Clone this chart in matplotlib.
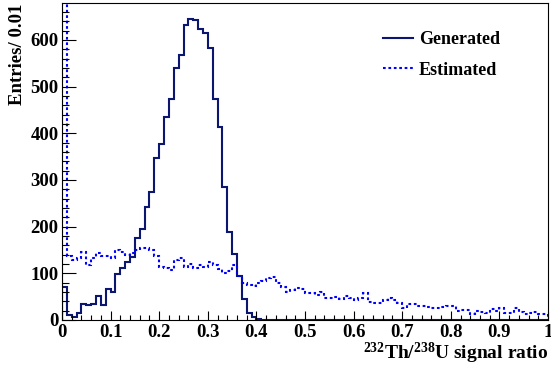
import matplotlib
matplotlib.use('Agg')
import matplotlib.pyplot as plt
import numpy as np

# -[Dati]-----------------------------------------------------------------------
bin_edges = np.linspace(0, 1, 101)

generated = [71, 11, 7, 14, 34, 32, 34, 51, 33, 67,
             59, 99, 111, 125, 136, 176, 194, 243, 275, 348,
             376, 434, 474, 539, 568, 632, 644, 643, 623, 614,
             582, 474, 414, 284, 189, 141, 94, 44, 14, 6,
             2, 1, 0, 0, 0, 0, 0, 0, 0, 0,
             0, 0, 0, 0, 0, 0, 0, 0, 0, 0,
             0, 0, 0, 0, 0, 0, 0, 0, 0, 0,
             0, 0, 0, 0, 0, 0, 0, 0, 0, 0,
             0, 0, 0, 0, 0, 0, 0, 0, 0, 0,
             0, 0, 0, 0, 0, 0, 0, 0, 0, 0]

estimated = [900, 137, 129, 132, 146, 118, 133, 143, 138, 138,
             133, 150, 146, 139, 143, 149, 155, 154, 150, 137,
             114, 112, 107, 129, 133, 114, 121, 111, 118, 114,
             125, 118, 109, 100, 106, 118, 94, 79, 75, 73,
             79, 84, 89, 93, 79, 71, 59, 64, 69, 66,
             57, 57, 54, 60, 48, 48, 50, 46, 51, 48,
             43, 48, 57, 39, 36, 37, 43, 48, 43, 37,
             25, 34, 34, 29, 29, 27, 25, 26, 27, 30,
             29, 20, 21, 21, 13, 19, 18, 16, 23, 20,
             26, 16, 16, 25, 18, 13, 16, 18, 13, 13]

xticks = [0, 0.1, 0.2, 0.3, 0.4, 0.5, 0.6, 0.7, 0.8, 0.9, 1]
xticklabels = ["0", "0.1", "0.2", "0.3", "0.4", "0.5", "0.6", "0.7", "0.8", "0.9", "1"]
yticks = [0, 100, 200, 300, 400, 500, 600]

# -[Stile]----------------------------------------------------------------------
plt.rcParams['font.family'] = ['Liberation Serif', 'DejaVu Serif']
plt.rcParams['font.weight'] = 'bold'
plt.rcParams['mathtext.fontset'] = 'custom'
plt.rcParams['mathtext.rm'] = 'Liberation Serif:bold'
plt.rcParams['mathtext.it'] = 'Liberation Serif:bold'
plt.rcParams['mathtext.bf'] = 'Liberation Serif:bold'

fs = 13.5

fig = plt.figure(figsize=(5.51, 3.65), dpi=100)
ax = fig.add_axes([62/551, 45/365, 486/551, 317/365])

ax.stairs(generated, bin_edges, color="#0b1670", lw=1.5, label="Generated")
ax.stairs(estimated, bin_edges, color="#0000ff", lw=1.5,
          linestyle=(0, (1.3, 1.3)), label="Estimated")

ax.set_xlim(0, 1)
ax.set_ylim(0, 679)
ax.set_xticks(xticks)
ax.set_xticklabels(xticklabels)
ax.set_xticks(np.arange(0, 1.0001, 0.02), minor=True)
ax.set_yticks(yticks)
ax.set_yticks(np.arange(0, 679, 20), minor=True)

for sp in ax.spines.values():
    sp.set_linewidth(0.8)

ax.tick_params(axis='x', which='major', direction='in', length=6.5, width=0.8,
               labelsize=fs, pad=3)
ax.tick_params(axis='x', which='minor', direction='in', length=3.3, width=0.8)
ax.tick_params(axis='y', which='major', direction='in', length=10, width=0.8,
               labelsize=fs, pad=2.5)
ax.tick_params(axis='y', which='minor', direction='in', length=5, width=0.8)

fig.text(548/551, 5.5/365, r"$^{232}$Th/$^{238}$U signal ratio", ha='right',
         va='baseline', fontsize=14, fontweight='bold')
fig.text(18/551, 1 - 4/365, "Entries/ 0.01", rotation=90, ha='center',
         va='top', fontsize=fs, fontweight='bold')

ax.legend(loc='upper left', bbox_to_anchor=(383/551, 1 - 31/365),
          bbox_transform=fig.transFigure, frameon=False, fontsize=13,
          handlelength=1.65, handletextpad=0.35, labelspacing=0.75,
          borderpad=0, borderaxespad=0)

fig.savefig("out.png", dpi=100)
